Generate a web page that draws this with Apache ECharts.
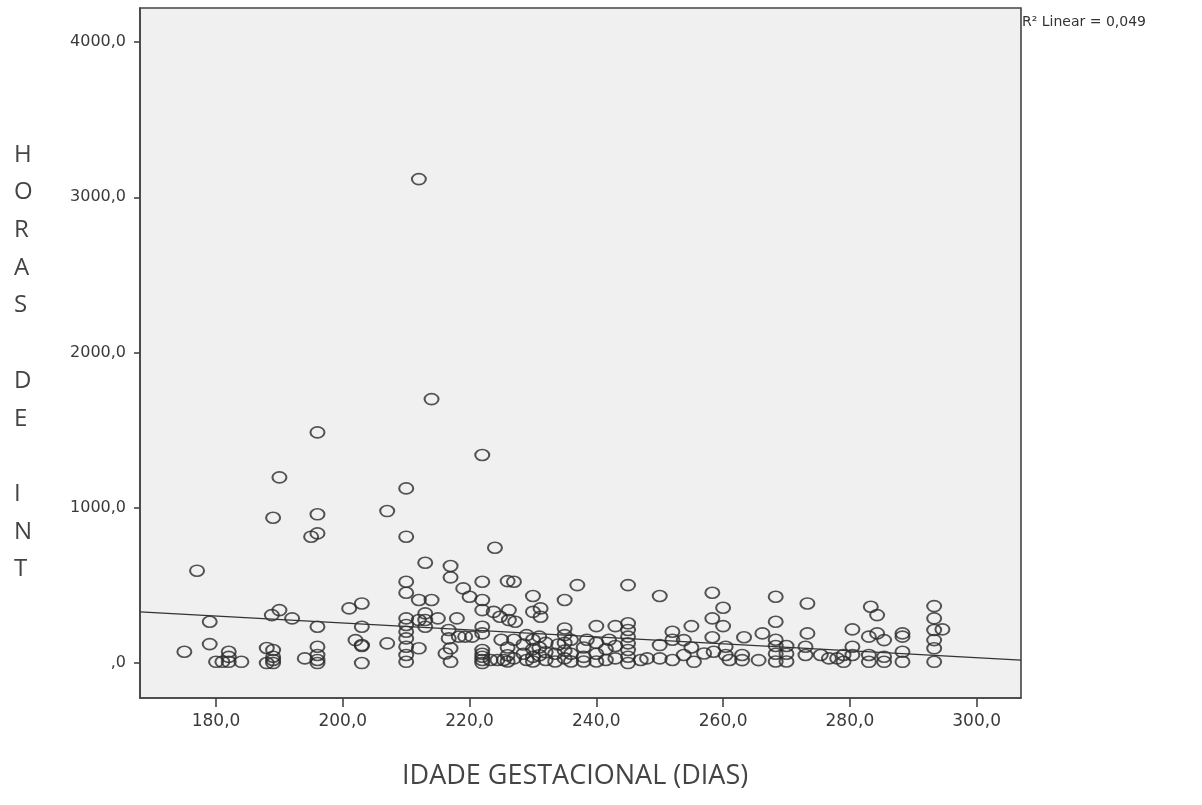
<!DOCTYPE html>
<html>
<head>
<meta charset="utf-8">
<script src="https://cdn.jsdelivr.net/npm/echarts@6/dist/echarts.min.js"></script>
<style>
html,body{margin:0;padding:0;background:#fff;}
#c{width:1202px;height:805px;}
</style>
</head>
<body>
<div id="c"></div>
<script>
// ---- data ----
const xTicks = [180, 200, 220, 240, 260, 280, 300];
const yTicks = [0, 1000, 2000, 3000, 4000];
const xTitle = 'IDADE GESTACIONAL (DIAS)';
const yTitle = 'H\nO\nR\nA\nS\n\nD\nE\n\nI\nN\nT';
const r2Label = 'R² Linear = 0,049';

const gestDays = [
 175,177,179,179,180,181,182,182,182,184,
 188,188,189,189,189,189,188.8,190,192,189,190,
 194,195,196,196,196,196,196,196,196,196,
 201,203,202,203,203,203,203,207,207,
 210,210,210,210,210,210,210,210,210,210,210,
 212,212,212,212,213,213,213,213,214,214,215,
 216.7,216.7,216.2,217,217,217,217,218,218.3,219.3,220.4,219,220,
 222,222,222,222,222,222,222,222,222,222,222,
 223.8,224.8,223.3,224.4,225.4,224,225,
 226,226.2,226.2,226,226,226,227,227.2,227,227,
 228.5,228.5,229,229,
 230,230,230,230,230,230,
 231.2,231.2,231,231,231,232,232,232,
 233.5,233.5,234,
 235,235,235,235,235,235,236,236,236,
 237,238,238,238,238.5,
 240,240,240,240,241.5,241.5,242,243,243,243,
 245,245,245,245,245,245,245,245,
 247,248,250,250,250,252,252,252,
 253.8,253.8,255,255.4,255,257,258.3,258.3,258.3,258.5,260,260,260.4,260.4,261,
 263,263,263.3,265.6,266.2,268.3,268.3,268.3,268.3,268.3,268.3,270,270,270,
 273.3,273.3,273,273,275.4,276.7,278,279,279,
 280.4,280.4,280.4,283.3,284.3,283,284.3,285.4,283,283,285.4,285.4,
 288.3,288.3,288.3,288.3,
 293.3,293.3,293.3,294.6,293.3,293.3,293.3
];
const hoursInt = [
 73,595,266,122,8,8,8,40,73,8,
 0,97,0,41,84,20,309,341,288,936,1196,
 30,814,835,958,1486,234,105,52,0,20,
 352,384,148,116,234,0,110,127,979,
 8,52,105,159,202,245,288,453,524,814,1125,
 277,95,406,3117,320,277,234,646,406,1700,288,
 213,159,62,95,8,625,552,288,170,170,170,481,427,
 0,41,84,191,234,341,406,524,1340,20,60,
 330,298,20,20,20,743,150,
 528,341,277,100,50,10,524,266,150,30,
 120,60,20,180,
 432,330,150,90,40,10,
 352,298,170,100,50,130,70,20,
 60,10,120,
 406,223,180,130,80,30,150,60,10,
 502,100,40,10,150,
 238,130,60,10,90,20,150,238,110,30,
 502,256,213,170,127,84,41,0,
 20,30,432,116,30,202,150,20,
 148,52,238,8,100,62,453,288,166,73,356,238,105,52,20,
 52,19,166,19,191,427,266,150,110,60,10,110,60,10,
 384,191,105,52,52,30,30,52,8,
 217,105,52,363,309,170,191,148,52,8,41,8,
 191,170,73,8,
 367,288,213,217,148,95,8
];
// linear fit line endpoints
const fitX = [168, 307];
const fitY = [330, 19];

// ---- chart ----
const points = gestDays.map((x, i) => [x, hoursInt[i]]);
const fitLine = fitX.map((x, i) => [x, fitY[i]]);
const fmt = v => {
  const s = v.toFixed(1).replace('.', ',');
  return v === 0 ? ',0' : s;
};

const chart = echarts.init(document.getElementById('c'), null, {renderer: 'canvas'});
chart.setOption({
  backgroundColor: '#ffffff',
  animation: false,
  grid: {
    left: 140, top: 8, right: 181, bottom: 107,
    show: true, backgroundColor: '#f0f0f0',
    borderColor: '#444', borderWidth: 1.6
  },
  xAxis: {
    type: 'value', min: 168, max: 307,
    axisLine: {show: true, onZero: false, lineStyle: {color: '#444', width: 1.6}},
    axisTick: {show: true, length: 9, customValues: xTicks, lineStyle: {color: '#444', width: 1.6}},
    axisLabel: {customValues: xTicks, formatter: fmt, margin: 15, color: '#3a3a3a',
      fontFamily: 'DejaVu Sans', fontSize: 17},
    splitLine: {show: false}
  },
  yAxis: {
    type: 'value', min: -225, max: 4219,
    axisLine: {show: true, onZero: false, lineStyle: {color: '#444', width: 1.6}},
    axisTick: {show: true, length: 6, customValues: yTicks, lineStyle: {color: '#444', width: 1.6}},
    axisLabel: {customValues: yTicks, formatter: fmt, margin: 14, color: '#3a3a3a',
      fontFamily: 'DejaVu Sans', fontSize: 16},
    splitLine: {show: false}
  },
  graphic: [
    {type: 'text', left: 14, top: 136,
      style: {text: yTitle, fontFamily: 'Open Sans', fontSize: 24, lineHeight: 37.7,
        fill: '#444', align: 'center', width: 22}},
    {type: 'text', left: 402, top: 763,
      style: {text: xTitle, fontFamily: 'Open Sans', fontSize: 27, fill: '#444'}},
    {type: 'text', left: 1022, top: 15,
      style: {text: r2Label, fontFamily: 'DejaVu Sans', fontSize: 14, fill: '#333'}}
  ],
  series: [
    {
      type: 'scatter', data: points,
      symbol: 'circle', symbolSize: [14, 11],
      itemStyle: {color: 'rgba(0,0,0,0)', borderColor: '#2a2a2a', borderWidth: 1.8},
      silent: true
    },
    {
      type: 'line', data: fitLine, showSymbol: false, symbol: 'none',
      lineStyle: {color: '#333', width: 1.3}, silent: true
    }
  ]
});
</script>
</body>
</html>
